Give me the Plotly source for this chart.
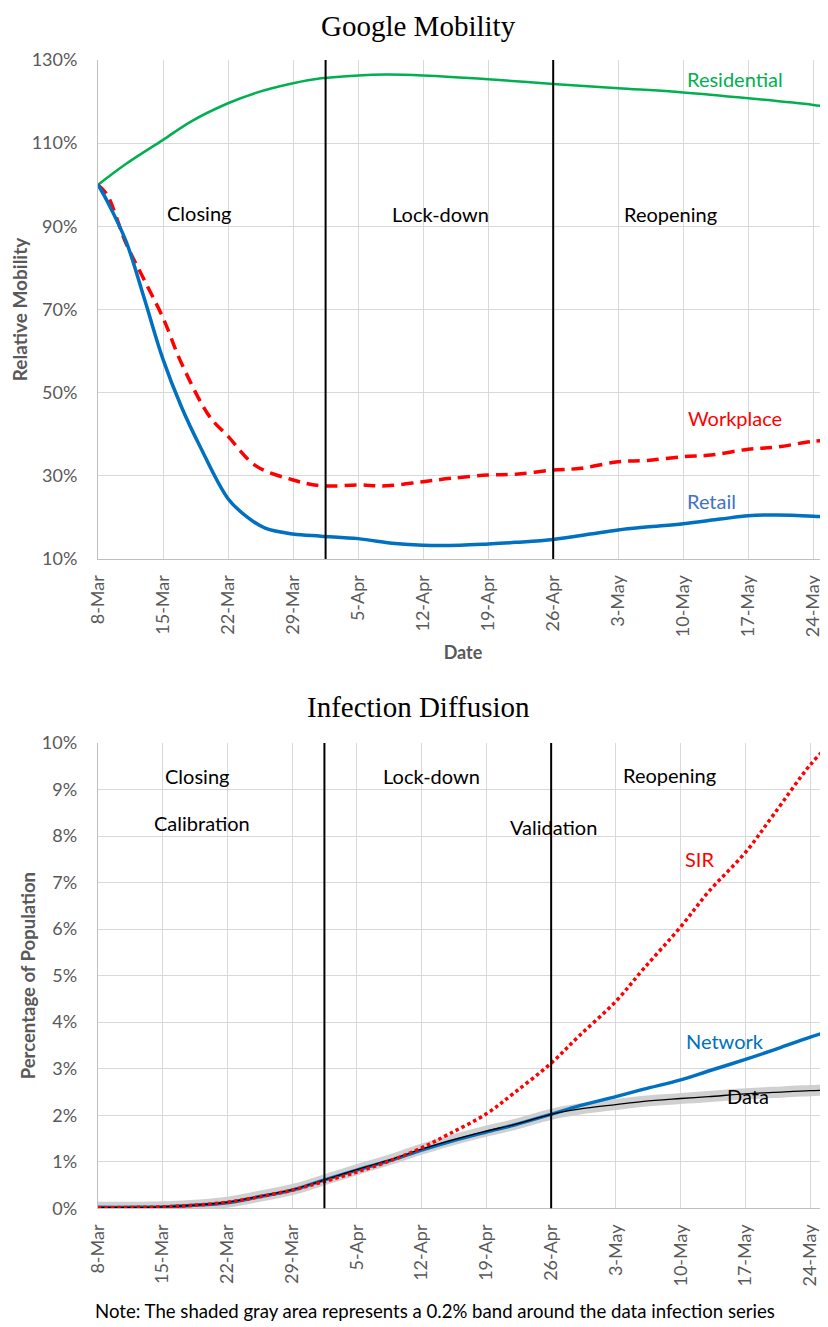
import plotly.graph_objects as go

# ---------------- Google Mobility data (% of baseline) ----------------
res_dates = ["2020-03-08", "2020-03-11", "2020-03-15", "2020-03-18", "2020-03-22", "2020-03-25",
             "2020-03-29", "2020-04-01", "2020-04-05", "2020-04-08", "2020-04-12", "2020-04-19",
             "2020-04-26", "2020-05-03", "2020-05-10", "2020-05-17", "2020-05-24", "2020-05-26"]
residential = [100, 105.0, 110.8, 115.2, 119.6, 122.1, 124.4, 125.6, 126.3, 126.5, 126.3, 125.4,
               124.2, 123.2, 122.2, 120.8, 119.2, 118.6]

ret_dates = ["2020-03-08", "2020-03-09", "2020-03-11", "2020-03-13", "2020-03-15", "2020-03-17",
             "2020-03-19", "2020-03-22", "2020-03-24", "2020-03-26", "2020-03-29", "2020-04-01",
             "2020-04-05", "2020-04-09", "2020-04-12", "2020-04-16", "2020-04-19", "2020-04-22",
             "2020-04-26", "2020-04-30", "2020-05-03", "2020-05-06", "2020-05-10", "2020-05-14",
             "2020-05-17", "2020-05-20", "2020-05-24", "2020-05-26"]
retail = [100, 96.0, 86.5, 72.5, 58, 46.5, 37, 24.5, 20.2, 17.4, 16.0, 15.5,
          14.9, 13.7, 13.3, 13.3, 13.6, 14.0, 14.7, 16.0, 17.0, 17.7, 18.5, 19.6,
          20.4, 20.6, 20.3, 20.0]

wrk_dates = ["2020-03-08", "2020-03-09", "2020-03-11", "2020-03-13", "2020-03-15", "2020-03-17",
             "2020-03-20", "2020-03-22", "2020-03-25", "2020-03-29", "2020-04-01", "2020-04-05",
             "2020-04-08", "2020-04-12", "2020-04-15", "2020-04-19", "2020-04-22", "2020-04-26",
             "2020-04-29", "2020-05-03", "2020-05-06", "2020-05-10", "2020-05-13", "2020-05-17",
             "2020-05-20", "2020-05-24", "2020-05-26"]
workplace = [100, 97.5, 86, 77, 68, 57, 44.3, 39.5, 32.4, 29.0, 27.6, 27.8,
             27.6, 28.6, 29.4, 30.2, 30.4, 31.4, 31.8, 33.4, 33.7, 34.6, 35.0, 36.4,
             36.9, 38.3, 38.5]

# ---------------- Infection Diffusion data (% of population) ----------------
inf_dates = ["2020-03-08", "2020-03-12", "2020-03-15", "2020-03-18", "2020-03-22", "2020-03-25",
             "2020-03-29", "2020-04-01", "2020-04-05", "2020-04-09", "2020-04-12", "2020-04-15",
             "2020-04-19", "2020-04-22", "2020-04-26", "2020-04-29", "2020-05-03", "2020-05-06",
             "2020-05-10", "2020-05-13", "2020-05-17", "2020-05-20", "2020-05-24", "2020-05-26"]
data_inf = [0.02, 0.02, 0.03, 0.06, 0.13, 0.24, 0.40, 0.58, 0.83, 1.07, 1.27, 1.45,
            1.66, 1.80, 2.02, 2.13, 2.23, 2.30, 2.36, 2.40, 2.46, 2.49, 2.53, 2.54]
network = [0.02, 0.02, 0.03, 0.06, 0.12, 0.23, 0.39, 0.58, 0.82, 1.05, 1.25, 1.43,
           1.64, 1.79, 2.02, 2.20, 2.40, 2.56, 2.76, 2.95, 3.20, 3.40, 3.68, 3.80]
sir = [0.01, 0.02, 0.03, 0.06, 0.13, 0.23, 0.39, 0.55, 0.78, 1.05, 1.30, 1.60,
       2.03, 2.48, 3.12, 3.70, 4.45, 5.15, 6.05, 6.80, 7.65, 8.45, 9.53, 9.95]
band_half = 0.12  # shaded band around the data series

phase_lines = ["2020-04-01 12:00", "2020-04-26"]

# page body has an 8px margin: figure is laid out in window pixels minus 8
OFF = 8
W, H = 828 - OFF, 1327 - OFF


def px(x):
    return (x - OFF) / W


def py(y):
    return 1 - (y - OFF) / H


tick_font = dict(family="Lato", size=18, color="#595959")
grid = "#d9d9d9"

fig = go.Figure()

# top chart
fig.add_trace(go.Scatter(x=res_dates, y=residential, mode="lines", name="Residential",
                         line=dict(color="#00B050", width=2.5, shape="spline"),
                         xaxis="x", yaxis="y", showlegend=False))
fig.add_trace(go.Scatter(x=wrk_dates, y=workplace, mode="lines", name="Workplace",
                         line=dict(color="#FF0000", width=3.5, dash="12px,7px", shape="spline"),
                         xaxis="x", yaxis="y", showlegend=False))
fig.add_trace(go.Scatter(x=ret_dates, y=retail, mode="lines", name="Retail",
                         line=dict(color="#0070C0", width=3.5, shape="spline"),
                         xaxis="x", yaxis="y", showlegend=False))

# bottom chart
lower = [v - band_half for v in data_inf]
upper = [v + band_half for v in data_inf]
fig.add_trace(go.Scatter(x=inf_dates, y=lower, mode="lines", line=dict(width=0, shape="spline"),
                         xaxis="x2", yaxis="y2", showlegend=False, hoverinfo="skip"))
fig.add_trace(go.Scatter(x=inf_dates, y=upper, mode="lines", line=dict(width=0, shape="spline"),
                         fill="tonexty", fillcolor="rgba(200,200,200,0.85)",
                         xaxis="x2", yaxis="y2", showlegend=False, hoverinfo="skip"))
fig.add_trace(go.Scatter(x=inf_dates, y=network, mode="lines", name="Network",
                         line=dict(color="#0070C0", width=3.5, shape="spline"),
                         xaxis="x2", yaxis="y2", showlegend=False))
fig.add_trace(go.Scatter(x=inf_dates, y=data_inf, mode="lines", name="Data",
                         line=dict(color="#000000", width=1.3, shape="spline"),
                         xaxis="x2", yaxis="y2", showlegend=False))
fig.add_trace(go.Scatter(x=inf_dates, y=sir, mode="lines", name="SIR",
                         line=dict(color="#FF0000", width=3.5, dash="3.5px,3px", shape="spline"),
                         xaxis="x2", yaxis="y2", showlegend=False))

for d in phase_lines:
    fig.add_shape(type="line", xref="x", yref="y domain", x0=d, x1=d, y0=0, y1=1,
                  line=dict(color="black", width=2))
    fig.add_shape(type="line", xref="x2", yref="y2 domain", x0=d, x1=d, y0=0, y1=1,
                  line=dict(color="black", width=2))

xcommon = dict(type="date", tickformat="%-d-%b", tick0="2020-03-08", dtick=7 * 86400000,
               tickangle=-90, showgrid=True, gridcolor=grid, gridwidth=1, showline=True,
               linecolor="#bfbfbf", linewidth=1, ticks="", tickfont=tick_font,
               ticklabelstandoff=8, zeroline=False, automargin=False)
ycommon = dict(showgrid=True, gridcolor=grid, gridwidth=1, showline=True, linecolor="#bfbfbf",
               linewidth=1, ticks="", tickfont=tick_font, ticklabelstandoff=16,
               zeroline=False, automargin=False, ticksuffix="%")
axis_title_font = dict(family="Lato", size=19, color="#595959")

fig.update_layout(
    width=W, height=H, paper_bgcolor="white", plot_bgcolor="white",
    margin=dict(l=0, r=0, t=0, b=0, autoexpand=False),
    xaxis=dict(xcommon, domain=[px(98), 1], range=["2020-03-08", "2020-05-25 14:00"], anchor="y",
               title=dict(text="<b>Date</b>", font=dict(family="Lato", size=18, color="#595959"),
                          standoff=10)),
    yaxis=dict(ycommon, domain=[py(559), py(60)], range=[10, 130], tick0=10, dtick=20, anchor="x",
               title=dict(text="<b>Relative Mobility</b>", font=axis_title_font, standoff=4)),
    xaxis2=dict(xcommon, domain=[px(97.7), 1], range=["2020-03-08", "2020-05-25 22:00"], anchor="y2"),
    yaxis2=dict(ycommon, domain=[py(1208.3), py(743)], range=[0, 10], dtick=1, anchor="x2",
                title=dict(text="<b>Percentage of Population</b>",
                           font=dict(family="Lato", size=18.5, color="#595959"), standoff=1)),
    font=dict(family="Lato"),
)


def ann(text, x, y, xref, yref, color="black", size=20, family="Lato"):
    fig.add_annotation(text=text, x=x, y=y, xref=xref, yref=yref, showarrow=False,
                       font=dict(family=family, size=size, color=color),
                       xanchor="center", yanchor="middle")


ann("Google Mobility", px(418), py(26), "paper", "paper", size=29, family="Liberation Serif")
ann("Infection Diffusion", px(418), py(707), "paper", "paper", size=29, family="Liberation Serif")

ann("Closing", "2020-03-18 21:00", 93.2, "x", "y")
ann("Lock-down", "2020-04-13 22:00", 93.0, "x", "y")
ann("Reopening", "2020-05-08 14:00", 93.0, "x", "y")
ann("Residential", "2020-05-15 14:00", 125.4, "x", "y", color="#00B050")
ann("Workplace", "2020-05-15 14:00", 43.9, "x", "y", color="#FF0000")
ann("Retail", "2020-05-13 02:00", 24.0, "x", "y", color="#4472C4")

ann("Closing", "2020-03-18 18:00", 9.30, "x2", "y2")
ann("Calibration", "2020-03-19 07:00", 8.29, "x2", "y2")
ann("Lock-down", "2020-04-13 02:00", 9.30, "x2", "y2")
ann("Validation", "2020-04-26 05:00", 8.20, "x2", "y2")
ann("Reopening", "2020-05-08 19:00", 9.32, "x2", "y2")
ann("SIR", "2020-05-12 00:00", 7.51, "x2", "y2", color="#FF0000")
ann("Network", "2020-05-14 19:00", 3.60, "x2", "y2", color="#0070C0")
ann("Data", "2020-05-17 07:00", 2.41, "x2", "y2")

ann("Note: The shaded gray area represents a 0.2% band around the data infection series",
    px(435), py(1311), "paper", "paper", size=18.6)

fig.write_html("out.html")
